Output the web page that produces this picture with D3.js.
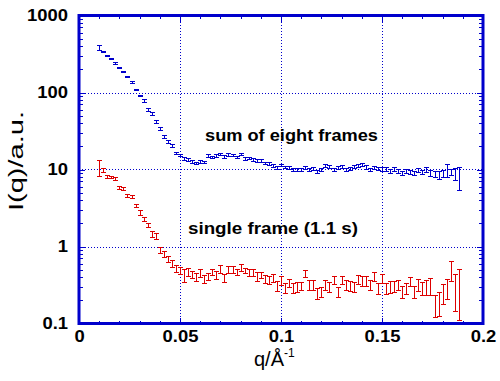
<!DOCTYPE html>
<html><head><meta charset="utf-8">
<script src="https://cdn.jsdelivr.net/npm/d3@7"></script>
<style>body{margin:0;background:#fff}svg{display:block}</style>
</head><body>
<svg id="c" width="500" height="381"></svg>
<script>
// ---- data ----
const qValues = [0.010,0.012,0.014,0.016,0.018,0.020,0.022,0.024,0.026,0.028,
  0.030,0.032,0.034,0.036,0.038,0.040,0.042,0.044,0.046,0.048,
  0.050,0.052,0.054,0.056,0.058,0.060,0.062,0.064,0.066,0.068,
  0.070,0.072,0.074,0.076,0.078,0.080,0.082,0.084,0.086,0.088,
  0.090,0.092,0.094,0.096,0.098,0.100,0.102,0.104,0.106,0.108,
  0.110,0.112,0.114,0.116,0.118,0.120,0.122,0.124,0.126,0.128,
  0.130,0.132,0.134,0.136,0.138,0.140,0.142,0.144,0.146,0.148,
  0.150,0.152,0.154,0.156,0.158,0.160,0.162,0.164,0.166,0.168,
  0.170,0.172,0.174,0.176,0.178,0.180,0.182,0.184,0.186,0.188];

const sumI = [387,340,305,279,243,213,187,162,136,109,
  91,78,61,53,42,33.8,26.8,22.9,20.3,16.3,
  15.4,14.0,13.5,12.6,12.2,12.7,12.5,15.2,14.6,15.2,
  16.0,14.7,15.7,15.4,14.6,16.0,13.9,14.1,13.5,13.0,
  13.0,12.2,12.0,11.3,10.5,11.5,10.8,10.5,10.0,10.0,
  10.0,10.7,10.0,10.2,9.4,10.1,11.3,10.9,10.0,10.5,
  11.0,10.1,10.3,11.0,11.2,11.6,10.8,10.0,10.5,10.3,
  10.2,10.2,9.5,10.2,9.5,9.1,9.5,9.3,9.1,9.8,
  9.3,10.0,9.1,8.9,8.6,8.9,10.0,9.3,8.9,8.1];
const sumErr = [30,7,6,5.5,5,4,4,3.5,3,2.5,
  2,3.5,2.8,2.4,1.9,1.5,1.2,1.0,0.9,0.6,
  0.6,0.55,0.5,0.5,0.5,0.5,0.5,0.6,0.55,0.6,
  0.6,0.55,0.6,0.6,0.55,0.6,0.5,0.5,0.5,0.5,
  0.5,0.45,0.45,0.45,0.45,0.45,0.45,0.45,0.45,0.45,
  0.45,0.45,0.45,0.45,0.45,0.45,0.5,0.5,0.45,0.5,
  0.5,0.45,0.5,0.5,0.5,0.5,0.5,0.45,0.5,0.5,
  0.5,0.6,0.6,0.6,0.6,0.55,0.6,0.6,0.55,0.6,
  0.6,0.8,0.85,0.8,1.0,0.95,1.9,0.75,1.6,2.7];

const singleI = [10.8,9.8,8.2,8.0,7.7,5.8,5.7,4.6,4.5,3.4,
  2.77,2.29,1.91,1.45,1.36,0.905,0.80,0.69,0.61,0.52,
  0.49,0.43,0.47,0.43,0.40,0.46,0.38,0.41,0.47,0.43,
  0.51,0.39,0.51,0.51,0.47,0.53,0.49,0.46,0.46,0.41,
  0.43,0.38,0.37,0.39,0.31,0.36,0.29,0.34,0.29,0.30,
  0.31,0.45,0.32,0.32,0.25,0.26,0.32,0.30,0.37,0.26,
  0.37,0.32,0.31,0.30,0.38,0.36,0.36,0.32,0.41,0.29,
  0.39,0.29,0.30,0.31,0.32,0.26,0.29,0.35,0.26,0.32,
  0.29,0.30,0.31,0.18,0.19,0.25,0.29,0.50,0.29,0.31];
const singleErr = [2.6,0.6,0.33,0.35,0.35,0.29,0.3,0.23,0.23,0.17,
  0.19,0.16,0.13,0.13,0.12,0.09,0.07,0.07,0.066,0.06,
  0.05,0.08,0.056,0.045,0.047,0.054,0.045,0.045,0.041,0.047,
  0.06,0.043,0.055,0.055,0.046,0.055,0.043,0.045,0.045,0.05,
  0.043,0.046,0.043,0.047,0.043,0.048,0.044,0.043,0.043,0.045,
  0.041,0.05,0.044,0.044,0.04,0.041,0.047,0.042,0.045,0.038,
  0.048,0.045,0.047,0.041,0.051,0.049,0.049,0.044,0.058,0.046,
  0.055,0.047,0.053,0.05,0.051,0.045,0.05,0.046,0.045,0.055,
  0.053,0.066,0.076,0.057,0.066,0.072,0.085,0.14,0.145,0.2];

const xTicks = [0, 0.05, 0.1, 0.15, 0.2];
const xTickLabels = ["0", "0.05", "0.1", "0.15", "0.2"];
const xMinorTicks = [0.01,0.02,0.03,0.04,0.06,0.07,0.08,0.09,0.11,0.12,0.13,0.14,0.16,0.17,0.18,0.19];
const yTicks = [0.1, 1, 10, 100, 1000];
const yTickLabels = ["0.1", "1", "10", "100", "1000"];
const yMinorTicks = [0.2,0.3,0.4,0.5,0.6,0.7,0.8,0.9,2,3,4,5,6,7,8,9,20,30,40,50,60,70,80,90,200,300,400,500,600,700,800,900];
const gridX = [0.05, 0.1, 0.15];
const gridY = [1, 10, 100];

// ---- chart ----
const BLUE = "#0000cc", RED = "#dd0000";
const svg = d3.select("#c");
const L = 79, R = 483, T = 15.5, B = 323.5;
const x = d3.scaleLinear().domain([0, 0.2]).range([L, R]);
const y = d3.scaleLog().domain([0.1, 1000]).range([B, T]);

svg.append("defs").append("clipPath").attr("id","clip")
  .append("rect").attr("x",L).attr("y",T).attr("width",R-L).attr("height",B-T);

// gridlines
const grid = svg.append("g").attr("stroke", BLUE).attr("stroke-width", 1)
  .attr("stroke-dasharray", "1,2").attr("shape-rendering","crispEdges");
grid.selectAll(".gx").data(gridX).join("line")
  .attr("x1", d => Math.round(x(d)) + 0.5).attr("x2", d => Math.round(x(d)) + 0.5)
  .attr("y1", T).attr("y2", B);
grid.selectAll(".gy").data(gridY).join("line")
  .attr("y1", d => Math.round(y(d)) + 0.5).attr("y2", d => Math.round(y(d)) + 0.5)
  .attr("x1", L).attr("x2", R);

// error bars
function errorBars(vals, errs, color) {
  const data = qValues.map((q, i) => ({q, v: vals[i], e: errs[i]}));
  const g = svg.append("g").attr("clip-path","url(#clip)").attr("stroke", color)
    .attr("stroke-width", 1).attr("fill","none").attr("shape-rendering","crispEdges");
  const cap = 2.5;
  g.selectAll("path").data(data).join("path")
    .attr("d", d => {
      const cx = Math.round(x(d.q)) + 0.5;
      const lo = Math.max(d.v - d.e, 0.01);
      const y1 = Math.round(y(d.v + d.e)) + 0.5;
      const y2 = Math.round(y(lo)) + 0.5;
      return `M${cx},${y1}V${y2}M${cx-cap},${y1}H${cx+cap}M${cx-cap},${y2}H${cx+cap}`;
    });
}
errorBars(sumI, sumErr, BLUE);
errorBars(singleI, singleErr, RED);

// axes
const font = "'Liberation Sans', Arial, Helvetica, sans-serif";
function styleAxis(g) {
  g.select(".domain").remove();
  g.selectAll(".tick line").attr("stroke", BLUE).attr("stroke-width", 1);
  g.attr("shape-rendering","crispEdges");
}
const bot = svg.append("g").attr("transform", `translate(0,${B})`)
  .call(d3.axisBottom(x).tickValues(xTicks).tickSize(-6).tickPadding(7)
    .tickFormat((d, i) => xTickLabels[i]));
styleAxis(bot);
svg.append("g").attr("transform", `translate(0,${B})`)
  .call(d3.axisBottom(x).tickValues(xMinorTicks).tickSize(-3).tickFormat("")).call(styleAxis);
svg.append("g").attr("transform", `translate(0,${T})`)
  .call(d3.axisTop(x).tickValues(xTicks).tickSize(-6).tickFormat("")).call(styleAxis);
svg.append("g").attr("transform", `translate(0,${T})`)
  .call(d3.axisTop(x).tickValues(xMinorTicks).tickSize(-3).tickFormat("")).call(styleAxis);

const left = svg.append("g").attr("transform", `translate(${L},0)`)
  .call(d3.axisLeft(y).tickValues(yTicks).tickSize(-6).tickPadding(11)
    .tickFormat((d, i) => yTickLabels[i]));
styleAxis(left);
svg.append("g").attr("transform", `translate(${L},0)`)
  .call(d3.axisLeft(y).tickValues(yMinorTicks).tickSize(-4).tickFormat("")).call(styleAxis);
svg.append("g").attr("transform", `translate(${R},0)`)
  .call(d3.axisRight(y).tickValues(yTicks).tickSize(-6).tickFormat("")).call(styleAxis);
svg.append("g").attr("transform", `translate(${R},0)`)
  .call(d3.axisRight(y).tickValues(yMinorTicks).tickSize(-4).tickFormat("")).call(styleAxis);

[bot, left].forEach(g => {
  g.selectAll(".tick text").attr("fill", "#000").style("font-family", font)
    .style("font-weight", "bold").style("font-size", "16px")
    .each(function() {
      const w = this.getComputedTextLength();
      d3.select(this).attr("textLength", w * 1.15).attr("lengthAdjust", "spacingAndGlyphs");
    });
});

// frame
svg.append("rect").attr("x", L).attr("y", T).attr("width", R - L).attr("height", B - T)
  .attr("fill", "none").attr("stroke", BLUE).attr("stroke-width", 3);

// axis titles
const xt = svg.append("text").attr("x", 254).attr("y", 366)
  .style("font-family", font).style("font-size", "20px").attr("fill", "#000");
xt.append("tspan").text("q/Å");
xt.append("tspan").attr("dy", -9).style("font-size", "12px").text("-1");

svg.append("text").attr("transform", "translate(23,161) rotate(-90)")
  .attr("text-anchor", "middle").style("font-family", font).style("font-size", "20px")
  .attr("textLength", 100).attr("lengthAdjust", "spacingAndGlyphs")
  .attr("fill", "#000").text("I(q)/a.u.");

// annotations
svg.append("text").attr("x", 205).attr("y", 141).style("font-family", font)
  .style("font-weight", "bold").style("font-size", "16px")
  .attr("textLength", 173).attr("lengthAdjust", "spacingAndGlyphs").text("sum of eight frames");
svg.append("text").attr("x", 188).attr("y", 234).style("font-family", font)
  .style("font-weight", "bold").style("font-size", "16px")
  .attr("textLength", 170).attr("lengthAdjust", "spacingAndGlyphs").text("single frame (1.1 s)");
</script>
</body></html>
